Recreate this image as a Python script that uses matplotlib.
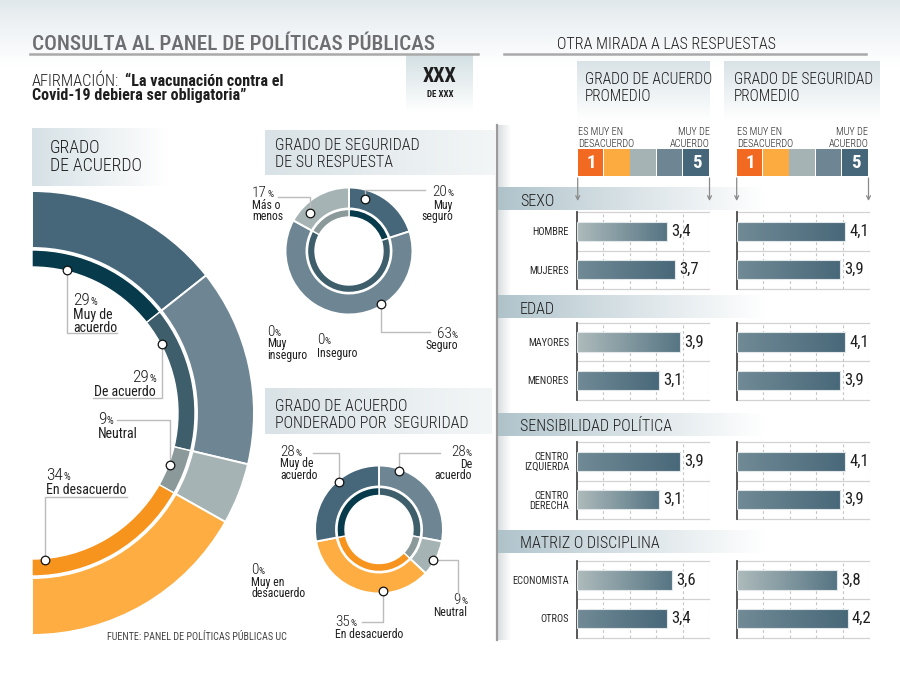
import numpy as np
import matplotlib
matplotlib.use("Agg")
import matplotlib.pyplot as plt
from matplotlib.colors import to_rgb

plt.rcParams['font.family'] = ['Roboto Condensed', 'Roboto', 'DejaVu Sans']

W, H = 900, 693
INK = '#1e1e1e'

# ------------------------------
# Data
# ------------------------------
agree_cats = ["Muy de acuerdo", "De acuerdo", "Neutral", "En desacuerdo"]
agree_pct = [29, 29, 9, 34]

secure_cats = ["Muy seguro", "Seguro", "Más o menos", "Inseguro", "Muy inseguro"]
secure_pct = [20, 63, 17, 0, 0]

weighted_cats = ["De acuerdo", "Neutral", "En desacuerdo", "Muy en desacuerdo", "Muy de acuerdo"]
weighted_pct = [28, 9, 35, 0, 28]

group_names = ["SEXO", "EDAD", "SENSIBILIDAD POLÍTICA", "MATRIZ O DISCIPLINA"]
group_cats = [["HOMBRE", "MUJERES"], ["MAYORES", "MENORES"],
              ["CENTRO\nIZQUIERDA", "CENTRO\nDERECHA"], ["ECONOMISTA", "OTROS"]]
avg_agree = [[3.4, 3.7], [3.9, 3.1], [3.9, 3.1], [3.6, 3.4]]
avg_secure = [[4.1, 3.9], [4.1, 3.9], [4.1, 3.9], [3.8, 4.2]]

# ------------------------------
# Styles
# ------------------------------
outer_col = {"Muy de acuerdo": "#46677a", "De acuerdo": "#6e8693", "Neutral": "#a6b3b4",
             "En desacuerdo": "#fdad41", "Muy seguro": "#46677a", "Seguro": "#6e8693",
             "Más o menos": "#a6b3b4"}
inner_col = {"Muy de acuerdo": "#073b4c", "De acuerdo": "#3e5e6c", "Neutral": "#8b999a",
             "En desacuerdo": "#f7941e", "Muy seguro": "#073b4c", "Seguro": "#3e5e6c",
             "Más o menos": "#8b999a"}
scale_cols = ['#f26a21', '#fcab40', '#a6b3b4', '#6e8693', '#46677a']
# bars whose gradient starts light grey
light_agree = [[True, False], [True, False], [False, True], [True, False]]
light_secure = [[False, False], [False, False], [False, False], [True, False]]


def grad(ax, x0, x1, y0, y1, c0, c1, horizontal=True, z=0, power=1.0):
    t = np.linspace(0, 1, 256) ** power
    a, b = np.array(to_rgb(c0)), np.array(to_rgb(c1))
    cols = a[None, :] * (1 - t[:, None]) + b[None, :] * t[:, None]
    img = cols[None, :, :] if horizontal else cols[:, None, :]
    return ax.imshow(img, extent=(x0, x1, y1, y0), aspect='auto',
                     interpolation='bilinear', zorder=z)


fig = plt.figure(figsize=(W / 100, H / 100), dpi=100)

# ------------------------------
# Background boxes / gradients
# ------------------------------
bg = fig.add_axes([0, 0, 1, 1])
grad(bg, 0, W, 0, 66, '#dfe7eb', '#ffffff', horizontal=False, power=0.8)
grad(bg, 406, 473, 55, 112, '#d3e0e4', '#ffffff', horizontal=False)
grad(bg, 32, 168, 128, 186, '#d6e1e5', '#ffffff')
grad(bg, 265, 495, 130, 175, '#d9e2e6', '#f3f6f7')
grad(bg, 265, 492, 388, 434, '#d9e2e6', '#f3f6f7')
grad(bg, 577, 710, 61, 120, '#d9e3e7', '#ffffff', horizontal=False)
grad(bg, 724, 880, 61, 120, '#d9e3e7', '#ffffff', horizontal=False)
grad(bg, 498, 511, 125, 640, '#d9dee0', '#ffffff')
band_top = [187, 295, 412.7, 530]
band_h = 23
for bt in band_top:
    grad(bg, 497, 765, bt, bt + band_h, '#aec2ca', '#ffffff', power=0.9, z=1)
bg.set_xlim(0, W)
bg.set_ylim(H, 0)
bg.axis('off')


# ------------------------------
# Donuts
# ------------------------------
def donut(cx, cy, R, r_oi, r_io, r_ii, cats, pct, total):
    ax = fig.add_axes([(cx - R) / W, (H - cy - R) / H, 2 * R / W, 2 * R / H])
    keep = [i for i, v in enumerate(pct) if v > 0]
    s = sum(pct)
    vals = [pct[i] / s * total for i in keep]
    norm = total >= 1
    ow, _ = ax.pie(vals, radius=1, startangle=90, counterclock=False, normalize=norm,
                   colors=[outer_col[cats[i]] for i in keep],
                   wedgeprops=dict(width=(R - r_oi) / R, edgecolor='white', linewidth=1.4))
    ax.pie(vals, radius=r_io / R, startangle=90, counterclock=False, normalize=norm,
           colors=[inner_col[cats[i]] for i in keep],
           wedgeprops=dict(width=(r_io - r_ii) / R, edgecolor='white', linewidth=1.0))
    ax.set_xlim(-1, 1)
    ax.set_ylim(-1, 1)
    ax.axis('off')
    return {cats[i]: w for i, w in zip(keep, ow)}


big = (32, 413, 222)
sec = (349, 251, 63.5)
wgt = (379, 529.5, 64)
big_w = donut(*big, 165, 163, 146, agree_cats, agree_pct, 0.5)
sec_w = donut(*sec, 42.5, 41.5, 34, secure_cats, secure_pct, 1.0)
wgt_w = donut(*wgt, 43, 42, 34, weighted_cats, weighted_pct, 1.0)

# ------------------------------
# Bar panels
# ------------------------------
panel_top = [212, 322.7, 442, 560.7]
panel_h = 77
col_x = [(577, 709.3), (736.7, 869)]
light_cols = ('#aebbbc', '#557483')
dark_cols = ('#718a96', '#486879')
for g in range(4):
    for c, (vals, light) in enumerate([(avg_agree[g], light_agree[g]),
                                       (avg_secure[g], light_secure[g])]):
        x0, x1 = col_x[c]
        ax = fig.add_axes([x0 / W, 1 - (panel_top[g] + panel_h) / H, (x1 - x0) / W, panel_h / H])
        ax.set_facecolor('none')
        ypos = np.arange(len(vals)) + 0.5
        bars = ax.barh(ypos, vals, height=0.5, color='none', edgecolor='#e2e8ea',
                       linewidth=0.8, zorder=3)
        for b, v, lt in zip(bars, vals, light):
            c0, c1 = light_cols if lt else dark_cols
            im = grad(ax, 0, v, b.get_y(), b.get_y() + b.get_height(), c0, c1, z=2)
            im.set_clip_path(b)
        ax.bar_label(bars, labels=[f"{v:.1f}".replace('.', ',') for v in vals],
                     padding=3, fontsize=12, color=INK)
        ax.set_xlim(0, 5)
        ax.set_ylim(len(vals), 0)
        ax.set_xticks(range(1, 6))
        ax.set_xticklabels([])
        ax.grid(axis='x', linestyle=(0, (2.5, 2.5)), color='#c4c4c4', linewidth=0.8, zorder=0)
        for yy in range(len(vals) + 1):
            ax.axhline(yy, color='#d2d2d2', linewidth=0.9, zorder=1, clip_on=False)
        for sp in ['top', 'right', 'bottom']:
            ax.spines[sp].set_visible(False)
        ax.spines['left'].set_color('#4a4a4a')
        ax.spines['left'].set_linewidth(1.3)
        ax.set_yticks(ypos)
        if c == 0:
            ax.set_yticklabels(group_cats[g], fontsize=7.5, color='#2a2a2a', linespacing=1.0)
        else:
            ax.set_yticklabels([])
        ax.tick_params(length=0, pad=5.8)

# ------------------------------
# Overlay: texts, dots, leaders
# ------------------------------
ov = fig.add_axes([0, 0, 1, 1])
ov.set_xlim(0, W)
ov.set_ylim(H, 0)
ov.axis('off')
ov.patch.set_alpha(0)
rend = fig.canvas.get_renderer()


def stack(x, y0, lines, gap, **kw):
    # one text per line, each on its own baseline
    for i, ln in enumerate(lines):
        ov.text(x, y0 + i * gap, ln, va='baseline', **kw)


# titles
ov.text(32, 49.5, "CONSULTA AL PANEL DE POLÍTICAS PÚBLICAS", fontsize=15.3, weight='medium',
        color='#6d6e71', va='baseline')
ov.plot([30, 478], [54, 54], color='#a9a9a9', lw=1.8)
ov.text(557, 49, "OTRA MIRADA A LAS RESPUESTAS", fontsize=11.5, weight='light',
        color=INK, va='baseline')
ov.plot([504, 866], [54, 54], color='#a9a9a9', lw=1.8)

t = ov.text(32, 86, "AFIRMACIÓN:", fontsize=11.8, weight='light', color=INK, va='baseline')
bb = t.get_window_extent(rend)
ov.text(32 + bb.width + 6, 86, "“La vacunación contra el", fontsize=11.6, weight='bold',
        color=INK, va='baseline')
ov.text(32, 100, "Covid-19 debiera ser obligatoria”", fontsize=11.6, weight='bold',
        color=INK, va='baseline')

ov.text(440, 82, "XXX", fontsize=14.5, weight='bold', color=INK, ha='center', va='baseline')
ov.text(440, 97, "DE XXX", fontsize=6.5, weight='bold', color=INK, ha='center', va='baseline')

# section headers
stack(50, 152.5, ["GRADO", "DE ACUERDO"], 18.5, fontsize=12.8, weight='light', color=INK)
stack(275, 150.5, ["GRADO DE SEGURIDAD", "DE SU RESPUESTA"], 16.3, fontsize=11.5,
      weight='light', color=INK)
stack(275, 410.7, ["GRADO DE ACUERDO", "PONDERADO POR  SEGURIDAD"], 17.3, fontsize=11.5,
      weight='light', color=INK)
stack(585, 84, ["GRADO DE ACUERDO", "PROMEDIO"], 17, fontsize=11.2, weight='light', color=INK)
stack(734, 84, ["GRADO DE SEGURIDAD", "PROMEDIO"], 17, fontsize=11.2, weight='light', color=INK)

# scale legend
for sx0, sx1 in [(577.7, 709.5), (736.7, 868.5)]:
    bw = (sx1 - sx0) / len(scale_cols)
    for i, col in enumerate(scale_cols):
        ov.add_patch(plt.Rectangle((sx0 + i * bw, 149.3), bw - 0.9, 26.4, color=col, lw=0))
    ov.text(sx0 + bw / 2, 163, "1", fontsize=13.5, weight='bold', color='white',
            ha='center', va='center')
    ov.text(sx0 + 4.5 * bw, 163, "5", fontsize=13.5, weight='bold', color='white',
            ha='center', va='center')
    stack(sx0, 135, ["ES MUY EN", "DESACUERDO"], 11.5, fontsize=7.4, weight='light', color=INK)
    stack(sx1, 135, ["MUY DE", "ACUERDO"], 11.5, fontsize=7.4, weight='light', color=INK,
          ha='right')
    for ax_x in (sx0, sx1):
        ov.annotate('', xy=(ax_x, 201), xytext=(ax_x, 178),
                    arrowprops=dict(arrowstyle='->', color='#8a8a8a', lw=0.9,
                                    shrinkA=0, shrinkB=0, mutation_scale=7))

# group bands text
for bt, name in zip(band_top, group_names):
    ov.text(520, bt + 18.5, name, fontsize=11.5, weight='light', color=INK, va='baseline')

# divider
ov.plot([497, 497], [125, 640], color='#9c9c9c', lw=1.6)

ov.text(107, 640, "FUENTE: PANEL DE POLÍTICAS PÚBLICAS UC", fontsize=7.3, color='#444444',
        va='baseline')


def pct_label(x, y, num, lines, ha, nsize, lsize, gap0, gap):
    psize = nsize * 0.62
    if ha == 'left':
        tn = ov.text(x, y, num, fontsize=nsize, weight='light', color=INK, va='baseline')
        w = tn.get_window_extent(rend).width
        ov.text(x + w + 0.3, y, '%', fontsize=psize, color=INK, va='baseline')
    else:
        tp = ov.text(x, y, '%', fontsize=psize, color=INK, va='baseline', ha='right')
        w = tp.get_window_extent(rend).width
        ov.text(x - w - 0.3, y, num, fontsize=nsize, weight='light', color=INK,
                va='baseline', ha='right')
    stack(x, y + gap0, lines, gap, fontsize=lsize, color=INK, ha=ha)


def dot_at(wedges, cat, frac, center, r):
    w = wedges[cat]
    a = np.radians(w.theta2 - frac * (w.theta2 - w.theta1))
    return center[0] + r * np.cos(a), center[1] - r * np.sin(a)


def leader(p, mode, c1, c2):
    x, y = p
    if mode == 'v':
        xs, ys = [x, x, c2], [y, c1, c1]
    else:
        xs, ys = [x, c1, c1], [y, y, c2]
    ov.plot(xs, ys, color='#bcbcbc', lw=1.0, zorder=4)
    ov.plot([x], [y], 'o', ms=6.2, mfc='white', mec='#111111', mew=0.9, zorder=6)


def pct_of(cats, pct, cat):
    return str(pct[cats.index(cat)])


# big donut labels: (category, frac, dot r, leader mode, c1, c2, text x, y, ha, lines)
big_lab = [("Muy de acuerdo", 0.27, 147, 'v', 333, 117, 73, 305, 'left', ["Muy de", "acuerdo"]),
           ("De acuerdo", 0.2, 147, 'v', 398, 93, 156, 382, 'right', ["De acuerdo"]),
           ("Neutral", 0.45, 147, 'v', 420, 117, 98, 424, 'left', ["Neutral"]),
           ("En desacuerdo", 0.92, 148, 'v', 497, 127, 46, 480.5, 'left', ["En desacuerdo"])]
for cat, f, r, m, c1, c2, tx, ty, ha, lines in big_lab:
    leader(dot_at(big_w, cat, f, big, r), m, c1, c2)
    pct_label(tx, ty, pct_of(agree_cats, agree_pct, cat), lines, ha, 12.5, 10, 13.8, 13.2)

sec_lab = [("Muy seguro", 0.24, 54, 'v', 190, 425, 453, 196.5, 'right', ["Muy", "seguro"]),
           ("Más o menos", 0.25, 55, 'v', 197, 278, 252, 197, 'left', ["Más o", "menos"]),
           ("Seguro", 0.34, 62, 'v', 332, 430, 458, 337.5, 'right', ["Seguro"])]
for cat, f, r, m, c1, c2, tx, ty, ha, lines in sec_lab:
    leader(dot_at(sec_w, cat, f, sec, r), m, c1, c2)
    pct_label(tx, ty, pct_of(secure_cats, secure_pct, cat), lines, ha, 11, 8.5, 12, 11.3)
pct_label(267, 335.5, pct_of(secure_cats, secure_pct, "Muy inseguro"), ["Muy", "inseguro"],
          'left', 11, 8.5, 12, 11.3)
pct_label(317, 344, pct_of(secure_cats, secure_pct, "Inseguro"), ["Inseguro"],
          'left', 11, 8.5, 12.5, 11.3)

wgt_lab = [("Muy de acuerdo", 0.6, 62, 'v', 453, 313, 280, 455.5, 'left', ["Muy de", "acuerdo"]),
           ("De acuerdo", 0.19, 62, 'v', 453, 440, 472, 455.5, 'right', ["De", "acuerdo"]),
           ("Neutral", 0.57, 62, 'h', 458, 593, 467, 603.5, 'right', ["Neutral"]),
           ("En desacuerdo", 0.34, 62, 'v', 622, 362, 335, 625.5, 'left', ["En desacuerdo"])]
for cat, f, r, m, c1, c2, tx, ty, ha, lines in wgt_lab:
    leader(dot_at(wgt_w, cat, f, wgt, r), m, c1, c2)
    pct_label(tx, ty, pct_of(weighted_cats, weighted_pct, cat), lines, ha, 11, 8.5, 12, 11.3)
pct_label(251, 574, pct_of(weighted_cats, weighted_pct, "Muy en desacuerdo"),
          ["Muy en", "desacuerdo"], 'left', 11, 8.5, 12, 11.3)

fig.savefig("out.png", dpi=100)
